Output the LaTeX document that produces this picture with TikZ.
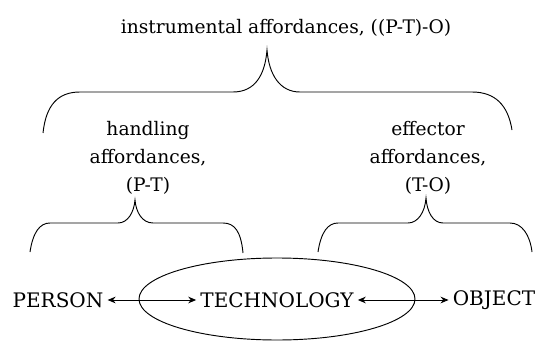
\documentclass[tikz,border=0pt]{standalone}
\usepackage{fontspec}
\setmainfont{DejaVu Serif}
\usetikzlibrary{arrows.meta}
\tikzset{
  lbl/.style={font=\fontsize{14}{17}\selectfont, inner sep=1pt},
  capslbl/.style={font=\fontsize{15}{18}\selectfont, inner sep=1pt},
  blk/.style={font=\fontsize{14}{21}\selectfont, align=center, inner sep=1pt},
  brc/.style={line width=0.7pt},
  dbl/.style={line width=0.7pt, {Stealth[length=6pt,width=5pt]}-{Stealth[length=6pt,width=5pt]}, shorten <=2pt, shorten >=2pt}
}
\begin{document}
\begin{tikzpicture}[x=0.75pt,y=-0.75pt]
\useasboundingbox (0,0) rectangle (542,342);
% top label
\node[lbl] (top) at (286,28) {instrumental affordances, ((P-T)-O)};
% big brace
\draw[brc] (43,133) .. controls (46,105) and (58,92) .. (80,92) -- (233,92)
  .. controls (255,92) and (265,75) .. (267,50)
  .. controls (269,75) and (280,92) .. (300,92) -- (472,92)
  .. controls (495,92) and (508,105) .. (512,130);
% middle labels
\node[blk] (hand) at (148,158) {handling\\affordances,\\(P-T)};
\node[blk] (eff) at (428,158) {effector\\affordances,\\(T-O)};
% left small brace
\draw[brc] (30,252) .. controls (33,232) and (40,223) .. (50,223) -- (118,223)
  .. controls (128,223) and (134,212) .. (135,200)
  .. controls (136,212) and (142,223) .. (153,223) -- (223,223)
  .. controls (235,223) and (241,232) .. (243,253);
% right small brace
\draw[brc] (318,252) .. controls (321,232) and (328,223) .. (338,223) -- (408,223)
  .. controls (418,223) and (425,212) .. (426,198)
  .. controls (427,212) and (433,223) .. (443,223) -- (510,223)
  .. controls (522,223) and (530,235) .. (532,252);
% bottom row
\node[capslbl] (person) at (58,300) {PERSON};
\node[capslbl] (tech) at (277,300) {TECHNOLOGY};
\node[capslbl] (obj) at (494,300) {OBJECT};
\draw[line width=0.7pt] (277,299) ellipse [x radius=138, y radius=41];
\draw[dbl] (person) -- (tech);
\draw[dbl] (tech) -- (obj);
\end{tikzpicture}
\end{document}
